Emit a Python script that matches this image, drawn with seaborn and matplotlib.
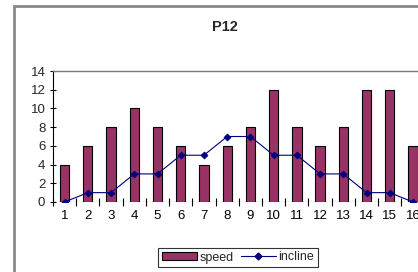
import matplotlib
matplotlib.use("Agg")
import matplotlib.pyplot as plt
import seaborn as sns
import pandas as pd
import numpy as np
from matplotlib.patches import Rectangle, Patch
from matplotlib.lines import Line2D

categories = [str(i) for i in range(1, 17)]
speed = [4, 6, 8, 10, 8, 6, 4, 6, 8, 12, 8, 6, 8, 12, 12, 6]
incline = [0, 1, 1, 3, 3, 5, 5, 7, 7, 5, 5, 3, 3, 1, 1, 0]
yticks = [0, 2, 4, 6, 8, 10, 12, 14]

sns.set_theme(style="white")
plt.rcParams['font.family'] = ['Liberation Sans', 'DejaVu Sans']

W, H = 418, 272
fig = plt.figure(figsize=(W / 100, H / 100), dpi=100)

# chart area border (cropped on right/bottom)
fig.add_artist(Rectangle((13.5 / W, -0.1), 1.2, (H - 5.5) / H + 0.1,
                         transform=fig.transFigure, fill=False,
                         edgecolor="#8a8a8a", linewidth=2.0))

left, right = 53, 424.6
top, bottom = 71, 202
ax = fig.add_axes([left / W, (H - bottom) / H, (right - left) / W, (bottom - top) / H])

df = pd.DataFrame({"cat": categories, "speed": speed, "incline": incline})
sns.barplot(data=df, x="cat", y="speed", color="#993366", saturation=1,
            width=0.4, edgecolor="black", linewidth=0.8, ax=ax)
sns.pointplot(data=df, x="cat", y="incline", color="#000080", markers="D",
              linestyles="-", markersize=3.5, linewidth=0.8, ax=ax)

ax.set_xlim(-0.5, 15.5)
ax.set_ylim(0, 14)
ax.set_yticks(yticks)
ax.set_yticklabels([str(v) for v in yticks])
ax.set_xlabel("")
ax.set_ylabel("")

for s in ["right", "bottom"]:
    ax.spines[s].set_visible(False)
ax.spines["left"].set_color("black")
ax.spines["left"].set_linewidth(0.8)
ax.spines["top"].set_color("#7a7a7a")
ax.spines["top"].set_linewidth(1.0)
ax.axhline(0, color="black", linewidth=0.8, zorder=0.5)

ax.tick_params(axis="x", which="major", length=0, pad=6, labelsize=9.5, colors="black")
ax.set_xticks(np.arange(-0.5, 16, 1.0), minor=True)
ax.tick_params(axis="x", which="minor", direction="inout", length=6, width=0.8,
               color="black", bottom=True)
ax.tick_params(axis="y", which="major", direction="inout", length=5, width=0.8,
               color="black", left=True, labelsize=9.5, pad=3)

fig.text(225 / W, (H - 27) / H, "P12", ha="center", va="center",
         fontsize=10.5, fontweight="bold")

handles = [Patch(facecolor="#993366", edgecolor="black", linewidth=0.8),
           Line2D([0], [0], color="#000080", marker="D", markersize=3.5, linewidth=0.8)]
leg = fig.legend(handles, ["speed", "incline"], loc="center",
                 bbox_to_anchor=(238 / W, (H - 257.5) / H), ncol=2,
                 frameon=True, fancybox=False, fontsize=9,
                 handlelength=2.8, handleheight=0.6, handletextpad=0.2,
                 columnspacing=0.6, borderpad=0.3, borderaxespad=0)
leg.get_frame().set_edgecolor("black")
leg.get_frame().set_linewidth(0.8)

fig.savefig("out.png", dpi=100)
